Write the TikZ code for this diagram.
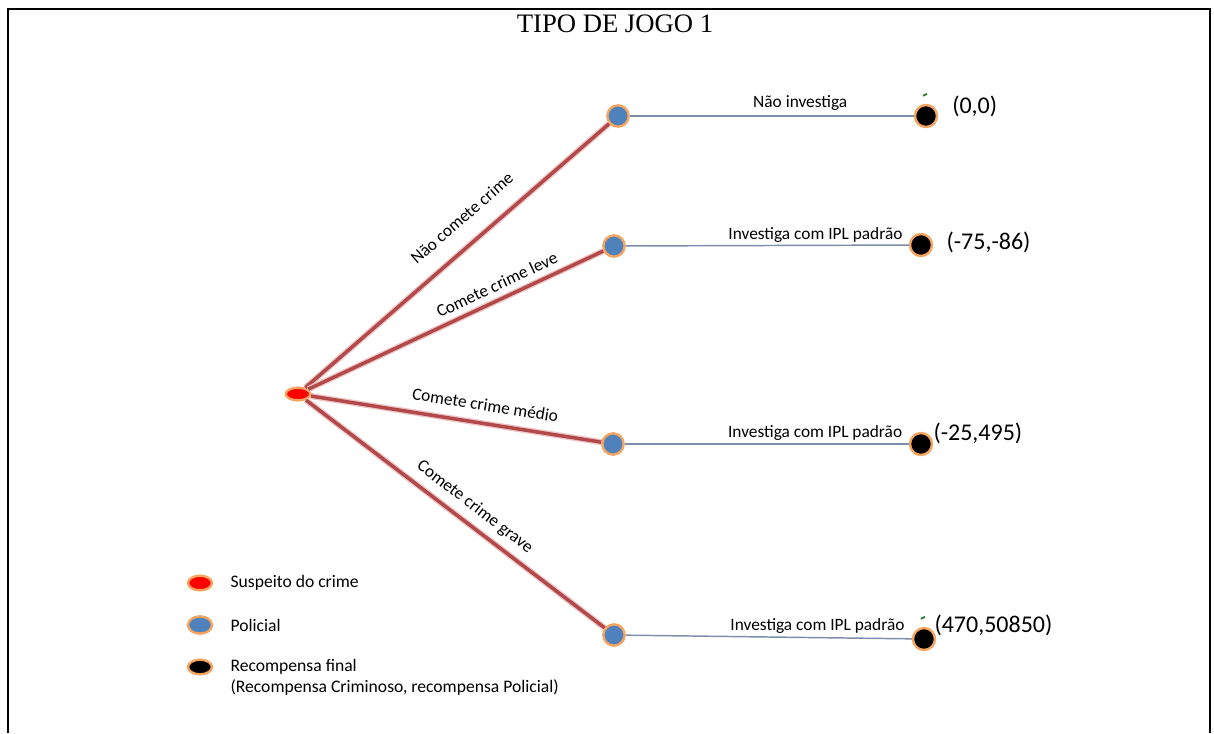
\documentclass[tikz,border=0pt]{standalone}
\usepackage{fontspec}
\setmainfont{Carlito}
\newfontfamily\titulofont{Liberation Serif}
\usetikzlibrary{shapes.geometric,positioning}
\definecolor{ramo}{RGB}{178,72,74}
\definecolor{ramoluz}{RGB}{236,196,196}
\definecolor{borda}{RGB}{245,165,95}
\definecolor{azulpol}{RGB}{79,129,189}
\definecolor{linhajog}{RGB}{125,142,170}
\definecolor{verde}{RGB}{40,120,50}

\begin{document}
\begin{tikzpicture}[x=0.75pt, y=-0.75pt, every node/.style={font=\fontsize{13}{16}\selectfont},
	suspeito/.style={ellipse, draw=borda, line width=1.8pt, fill=red, minimum width=18.5pt, minimum height=9.5pt, inner sep=0pt},
	policial/.style={circle, draw=borda, line width=1.8pt, fill=azulpol, minimum size=16pt, inner sep=0pt},
	final/.style={circle, draw=borda, line width=1.8pt, fill=black, minimum size=16.5pt, inner sep=0pt},
	legenda/.style={ellipse, draw=borda, line width=1.8pt, minimum width=18pt, minimum height=11pt, inner sep=0pt},
	ramo/.style={draw=ramo, line width=2.6pt, preaction={draw=ramoluz, line width=4.6pt}},
	jogada/.style={draw=linhajog, line width=1.1pt},
	ganho/.style={font=\fontsize{18}{20}\selectfont},
	legtexto/.style={font=\fontsize{13.2}{16}\selectfont}]
			\useasboundingbox (0,0) rectangle (1214,733);
			\draw[line width=1.5pt] (8,733) -- (8,9) -- (1210,9) -- (1210,733);
			\node[font=\titulofont\fontsize{20}{24}\selectfont] (titulo) at (615,24) {TIPO DE JOGO 1};
			
			% nos do jogo
			\node[suspeito] (raiz) at (298,394) {};
			\node[policial] (p1) at (618,116) {};
			\node[policial] (p2) at (614,246) {};
			\node[policial] (p3) at (613,444) {};
			\node[policial] (p4) at (614,635) {};
			\node[final] (f1) at (926,116) {};
			\node[final] (f2) at (921,245) {};
			\node[final] (f3) at (921,444) {};
			\node[final] (f4) at (924,639) {};
			
			% escolhas do suspeito
			\draw[ramo] (raiz) -- (p1) node[pos=0.57, sloped, yshift=19pt] {Não comete crime};
			\draw[ramo] (raiz) -- (p2) node[pos=0.66, sloped, yshift=11pt] {Comete crime leve};
			\draw[ramo] (raiz) -- (p3) node[pos=0.59, sloped, yshift=14pt] {Comete crime médio};
			\draw[ramo] (raiz) -- (p4) node[pos=0.53, sloped, yshift=13pt] {Comete crime grave};
			
			% escolhas do policial
			\draw[jogada] (p1) -- (f1) node[pos=0.6, yshift=9.5pt] {Não investiga};
			\draw[jogada] (p2) -- (f2) node[pos=0.67, yshift=7.5pt] {Investiga com IPL padrão};
			\draw[jogada] (p3) -- (f3) node[pos=0.67, yshift=8pt] {Investiga com IPL padrão};
			\draw[jogada] (p4) -- (f4) node[pos=0.67, yshift=9pt] {Investiga com IPL padrão};
			
			\node[ganho, right=7pt of f1, yshift=7.5pt] (g1) {(0,0)};
			\node[ganho, right=6.5pt of f2, yshift=2.25pt] (g2) {(-75,-86)};
			\node[ganho, right=-3.3pt of f3, yshift=8.25pt] (g3) {(-25,495)};
			\node[ganho, right=-4.8pt of f4, yshift=10.5pt] (g4) {(470,50850)};
			\draw[verde, line width=1.4pt] ([shift={(-3,-8)}]f1.north) -- ++(4,-2);
			\draw[verde, line width=1.4pt] ([shift={(-3,-8)}]f4.north) -- ++(4,-2);
			
			% legenda
			\node[legenda, fill=red] (l1) at (200,583) {};
			\node[legenda, fill=azulpol, minimum height=13pt] (l2) at (200,625) {};
			\node[legenda, fill=black] (l3) at (200,667) {};
			\node[legtexto, right=9.5pt of l1] (t1) {Suspeito do crime};
			\node[legtexto, right=9.5pt of l2] (t2) {Policial};
			\node[legtexto, right=9.5pt of l3] (t3) {Recompensa final};
			\node[legtexto, below=-3pt of t3.south west, anchor=north west] (t4) {(Recompensa Criminoso, recompensa Policial)};
		\end{tikzpicture}
\end{document}
